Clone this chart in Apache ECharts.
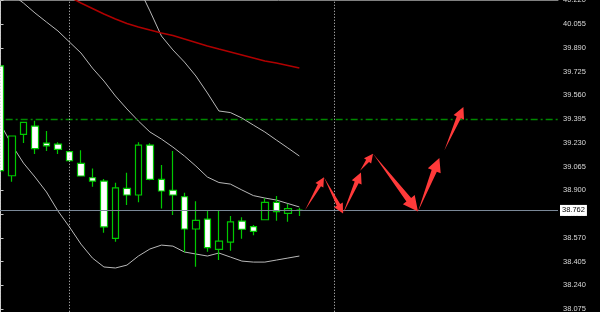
<!DOCTYPE html>
<html>
<head>
<meta charset="utf-8">
<script src="https://cdn.jsdelivr.net/npm/echarts@6/dist/echarts.min.js"></script>
<style>html,body{margin:0;padding:0;background:#000;}#c{width:600px;height:312px;}</style>
</head>
<body>
<div id="c"></div>
<script>
// ---- data ----
const categories = Array.from({length: 49}, (_, i) => String(i));
// [open, close, low, high]
const candles = [
  [39.036, 39.765, 39.030, 39.770],
  [39.277, 39.001, 38.959, 39.280],
  [39.372, 39.289, 39.228, 39.376],
  [39.189, 39.346, 39.152, 39.383],
  [39.209, 39.228, 39.173, 39.312],
  [39.184, 39.221, 39.152, 39.233],
  [39.105, 39.168, 39.100, 39.172],
  [38.999, 39.087, 38.995, 39.178],
  [38.964, 38.987, 38.925, 39.052],
  [38.645, 38.964, 38.605, 38.978],
  [38.916, 38.566, 38.542, 38.952],
  [38.867, 38.913, 38.797, 39.022],
  [39.214, 38.867, 38.816, 39.233],
  [38.976, 39.214, 38.970, 39.226],
  [38.895, 38.976, 38.774, 39.075],
  [38.867, 38.900, 38.728, 39.173],
  [38.631, 38.855, 38.469, 38.883],
  [38.691, 38.631, 38.369, 38.823],
  [38.501, 38.700, 38.473, 38.756],
  [38.547, 38.490, 38.415, 38.763],
  [38.681, 38.540, 38.480, 38.721],
  [38.629, 38.686, 38.563, 38.712],
  [38.615, 38.647, 38.587, 38.658],
  [38.816, 38.695, 38.693, 38.844],
  [38.751, 38.816, 38.689, 38.860],
  [38.772, 38.740, 38.681, 38.804],
  [38.762, 38.762, 38.721, 38.777]
];
const upperBand = ['-','-','-','-','-','-','-','-','-','-','-','-',
  40.312, 40.146, 39.972, 39.875, 39.791, 39.694, 39.576, 39.451, 39.440, 39.402, 39.353, 39.305, 39.249, 39.194, 39.138];
const middleBand = [40.326, 40.260, 40.201, 40.132, 40.069, 40.007, 39.930, 39.854, 39.749, 39.659, 39.555, 39.465, 39.381,
  39.305, 39.256, 39.200, 39.138, 39.068, 38.992, 38.954, 38.943, 38.902, 38.863, 38.846, 38.832, 38.808, 38.784];
const lowerBand = [39.360, 39.214, 39.089, 38.992, 38.888, 38.756, 38.645, 38.526, 38.429, 38.367, 38.360, 38.380, 38.443,
  38.492, 38.519, 38.512, 38.471, 38.457, 38.443, 38.464, 38.436, 38.408, 38.401, 38.401, 38.415, 38.429, 38.443];
const maLine = ['-','-','-','-','-','-', 40.244, 40.201, 40.163, 40.125, 40.090, 40.059, 40.034, 40.013, 39.993, 39.975,
  39.951, 39.927, 39.902, 39.881, 39.861, 39.840, 39.819, 39.798, 39.784, 39.767, 39.749];
// arrows: [fromIndex, fromPrice, toIndex, toPrice]
const arrows = [
  [26.49, 38.761, 28.14, 38.990],
  [28.14, 38.990, 29.80, 38.738],
  [29.80, 38.738, 31.36, 39.023],
  [31.28, 39.036, 32.41, 39.154],
  [32.41, 39.154, 36.32, 38.752],
  [36.32, 38.752, 38.18, 39.125],
  [38.61, 39.177, 40.27, 39.479]
];
const lastPrice = 38.762;
const levelPrice = 39.395;
const separators = [0, 6, 29];
const yMin = 37.910, yMax = 40.220, yStep = 0.165;

// ---- chart ----
const chart = echarts.init(document.getElementById('c'));
const font = 'Liberation Sans, Arial, sans-serif';
const sepStyle = {color: '#d0d0d0', width: 1, type: [1, 2]};
chart.setOption({
  backgroundColor: '#000',
  animation: false,
  grid: {left: -5.26, right: 42, top: 0.3, bottom: -20.75, outerBoundsMode: 'none', containLabel: false},
  xAxis: [
    {type: 'category', data: categories, position: 'top', boundaryGap: true,
     axisLine: {show: true, lineStyle: {color: '#808080', width: 1}},
     axisTick: {show: false}, axisLabel: {show: false}, splitLine: {show: false}},
    {type: 'value', min: -0.5, max: 48.5, show: false}
  ],
  yAxis: {
    type: 'value', position: 'right', min: yMin, max: yMax, interval: yStep,
    axisLine: {show: true, lineStyle: {color: '#c8c8c8', width: 1}},
    axisTick: {show: true, length: 3, lineStyle: {color: '#c8c8c8'}},
    splitLine: {show: false},
    axisLabel: {color: '#d8d8d8', fontSize: 7.5, fontFamily: font, margin: 5,
      formatter: v => v.toFixed(3)}
  },
  series: [
    {type: 'line', data: upperBand, showSymbol: false, symbol: 'none', silent: true,
     lineStyle: {color: '#b8b8b8', width: 1}, z: 2},
    {type: 'line', data: middleBand, showSymbol: false, symbol: 'none', silent: true,
     lineStyle: {color: '#b8b8b8', width: 1}, z: 2},
    {type: 'line', data: lowerBand, showSymbol: false, symbol: 'none', silent: true,
     lineStyle: {color: '#b8b8b8', width: 1}, z: 2},
    {type: 'line', data: maLine, showSymbol: false, symbol: 'none', silent: true,
     lineStyle: {color: '#b00000', width: 1.5}, z: 2},
    {type: 'candlestick', data: candles, barWidth: 7, z: 3,
     itemStyle: {color: '#ffffff', color0: '#000000', borderColor: '#00c800', borderColor0: '#00c800', borderWidth: 1.2},
     markLine: {
       symbol: 'none', silent: true, animation: false,
       lineStyle: {color: '#7a8898', width: 1, type: 'solid'},
       label: {show: true, position: 'end', distance: 2, formatter: lastPrice.toFixed(3),
         backgroundColor: '#ffffff', color: '#000000', fontSize: 7.5, fontFamily: font, padding: [2, 2, 1, 2]},
       data: [{yAxis: lastPrice}]
     }},
    {type: 'custom', xAxisIndex: 1, yAxisIndex: 0, data: arrows, z: 5,
     encode: {x: [0, 2], y: [1, 3]},
     renderItem: function (params, api) {
       const p1 = api.coord([api.value(0), api.value(1)]);
       const p2 = api.coord([api.value(2), api.value(3)]);
       const dx = p2[0] - p1[0], dy = p2[1] - p1[1];
       const L = Math.sqrt(dx * dx + dy * dy);
       const ux = dx / L, uy = dy / L, nx = -uy, ny = ux;
       const h = Math.max(9, Math.min(15, L * 0.24));
       const hw = h * 0.5, sw = h * 0.2;
       const bx = p2[0] - ux * h, by = p2[1] - uy * h;
       return {type: 'polygon', shape: {points: [
         p1, [bx + nx * sw, by + ny * sw], [bx + nx * hw, by + ny * hw], p2,
         [bx - nx * hw, by - ny * hw], [bx - nx * sw, by - ny * sw]
       ]}, style: {fill: '#ff3a3a'}};
     },
     markLine: {
       symbol: 'none', silent: true, animation: false, label: {show: false},
       lineStyle: {color: '#008800', width: 1.3, type: [7, 3, 2, 3]},
       data: [
         [{coord: [0.45, levelPrice]}, {coord: [48.5, levelPrice]}]
       ].concat(separators.map(s => ({xAxis: s, lineStyle: sepStyle})))
     }}
  ]
});
</script>
</body>
</html>
